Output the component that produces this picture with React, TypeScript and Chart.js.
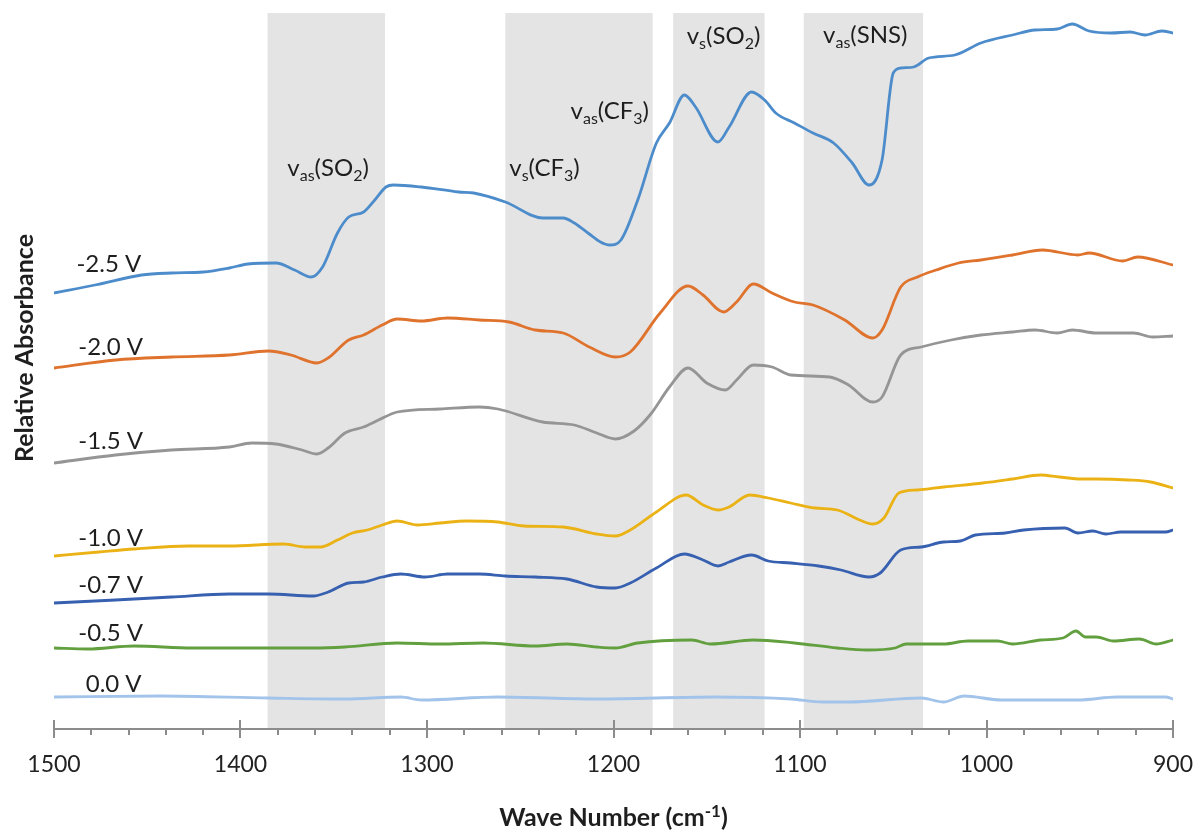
import React, { useEffect, useRef } from 'react';
import { Chart, registerables } from 'chart.js';

Chart.register(...registerables);

type Pt = [number, number];

// Wave number (cm-1), relative absorbance (arbitrary units)
const s25: Pt[] = [
  [1500, 436], [1478, 444], [1453, 454], [1437, 456], [1420, 457], [1406, 461], [1396, 465], [1381, 466],
  [1371, 459], [1362, 452], [1356, 462], [1348, 496], [1342, 512], [1334, 517], [1328, 529], [1322, 542],
  [1318, 544], [1303, 542], [1283, 537], [1275, 536], [1258, 527], [1238, 511], [1227, 511], [1221, 506],
  [1213, 495], [1207, 487], [1202, 484], [1196, 489], [1187, 529], [1177, 586], [1170, 606], [1162, 634],
  [1156, 622], [1144, 587], [1138, 602], [1126, 637], [1119, 629], [1113, 616], [1103, 606], [1093, 596],
  [1082, 586], [1072, 566], [1063, 544], [1056, 569], [1050, 656], [1046, 661], [1039, 662], [1031, 671],
  [1017, 674], [1003, 686], [986, 694], [974, 699], [962, 700], [954, 705], [945, 698], [933, 696],
  [923, 697], [915, 694], [906, 698], [900, 696],
];

const s20: Pt[] = [
  [1500, 361], [1467, 369], [1437, 372], [1406, 374], [1385, 378], [1373, 374], [1359, 366], [1353, 371],
  [1342, 389], [1334, 394], [1324, 404], [1316, 410], [1303, 408], [1289, 411], [1272, 409], [1256, 407],
  [1242, 399], [1227, 396], [1213, 382], [1199, 372], [1191, 377], [1175, 416], [1160, 443], [1152, 434],
  [1141, 417], [1134, 427], [1125, 445], [1115, 436], [1103, 427], [1093, 424], [1076, 409], [1061, 391],
  [1056, 399], [1046, 442], [1037, 452], [1027, 459], [1015, 466], [1003, 469], [986, 474], [970, 479],
  [951, 474], [945, 476], [927, 468], [919, 472], [900, 464],
];

const s15: Pt[] = [
  [1500, 266], [1467, 274], [1437, 279], [1406, 282], [1394, 286], [1381, 285], [1367, 279], [1359, 275],
  [1353, 281], [1344, 296], [1334, 302], [1326, 309], [1316, 317], [1293, 320], [1272, 322], [1262, 320],
  [1238, 307], [1221, 304], [1209, 296], [1199, 290], [1189, 298], [1180, 315], [1170, 342], [1160, 361],
  [1150, 346], [1140, 339], [1134, 349], [1125, 364], [1115, 362], [1105, 354], [1084, 352], [1074, 344],
  [1061, 327], [1056, 332], [1046, 374], [1035, 382], [1019, 389], [1003, 394], [986, 397], [974, 399],
  [962, 396], [954, 399], [941, 396], [921, 396], [911, 392], [900, 393],
];

const s10: Pt[] = [
  [1500, 173], [1476, 177], [1457, 180], [1428, 183], [1406, 183], [1377, 185], [1365, 182], [1357, 182],
  [1348, 189], [1340, 196], [1332, 199], [1324, 204], [1316, 208], [1305, 204], [1293, 206], [1279, 208],
  [1262, 207], [1248, 203], [1227, 202], [1209, 195], [1199, 193], [1191, 199], [1177, 217], [1161, 234],
  [1152, 224], [1144, 219], [1138, 222], [1127, 234], [1117, 231], [1105, 226], [1092, 221], [1080, 219],
  [1068, 209], [1061, 205], [1055, 211], [1047, 236], [1037, 239], [1023, 242], [1002, 246], [986, 250],
  [971, 254], [961, 252], [949, 250], [941, 250], [924, 249], [912, 247], [900, 241],
];

const s07: Pt[] = [
  [1500, 126], [1467, 129], [1437, 132], [1406, 135], [1385, 135], [1361, 133], [1353, 137], [1342, 146],
  [1334, 147], [1324, 152], [1314, 155], [1301, 152], [1289, 155], [1272, 155], [1258, 153], [1242, 152],
  [1225, 150], [1209, 142], [1199, 141], [1191, 146], [1177, 161], [1162, 175], [1152, 169], [1144, 163],
  [1138, 167], [1126, 174], [1117, 168], [1105, 166], [1090, 163], [1078, 159], [1063, 152], [1057, 156],
  [1046, 179], [1035, 182], [1023, 187], [1014, 188], [1006, 194], [990, 196], [980, 199], [958, 201],
  [951, 196], [943, 198], [936, 195], [928, 197], [904, 197], [900, 199],
];

const s05: Pt[] = [
  [1500, 81], [1482, 80], [1457, 83], [1426, 81], [1385, 81], [1361, 81], [1344, 82], [1316, 86],
  [1293, 85], [1270, 86], [1242, 83], [1225, 85], [1209, 82], [1199, 81], [1187, 86], [1158, 89],
  [1148, 85], [1125, 89], [1103, 86], [1080, 81], [1064, 79], [1049, 81], [1043, 85], [1023, 85],
  [1010, 88], [994, 88], [986, 85], [971, 89], [959, 91], [952, 98], [947, 92], [941, 92],
  [932, 88], [918, 90], [909, 85], [900, 89],
];

const s00: Pt[] = [
  [1500, 32], [1443, 33], [1385, 31], [1344, 30], [1314, 32], [1303, 29], [1262, 32], [1209, 30],
  [1146, 32], [1105, 30], [1088, 27], [1074, 27], [1035, 31], [1023, 27], [1012, 33], [992, 29],
  [951, 29], [930, 32], [904, 32], [900, 30],
];

const seriesData: Pt[][] = [s25, s20, s15, s10, s07, s05, s00];
const seriesNames = ['-2.5 V', '-2.0 V', '-1.5 V', '-1.0 V', '-0.7 V', '-0.5 V', '0.0 V'];
const seriesColors = ['#4d8ccb', '#df732d', '#959595', '#ebb216', '#3760b0', '#62a03f', '#a3c4ea'];

// Series label anchor: [wave number at left edge, value at text centre]
const seriesLabelPos: Pt[] = [
  [1488, 465], [1487, 382], [1487, 288], [1487, 191], [1487, 144], [1487, 96], [1483, 45],
];

// Shaded bands [from, to] in cm-1
const bands: Pt[] = [[1385.5, 1322.5], [1258, 1179], [1168, 1119], [1098, 1034]];

// Band labels: main, subscript, inner text, inner subscript
const bandLabelTexts: [string, string, string, string][] = [
  ['v', 'as', '(SO', '2'],
  ['v', 's', '(CF', '3'],
  ['v', 'as', '(CF', '3'],
  ['v', 's', '(SO', '2'],
  ['v', 'as', '(SNS', ''],
];
// [centre wave number, baseline value]
const bandLabelPos: Pt[] = [[1353, 553], [1237, 553], [1202, 610], [1141, 685], [1065, 686]];

const xTicks = [1500, 1400, 1300, 1200, 1100, 1000, 900];

const FONT = 'Lato, "Open Sans", sans-serif';
const TEXT = '#1e1e1e';
const AXIS = '#8c8c8c';

function drawParts(
  ctx: CanvasRenderingContext2D,
  cx: number,
  baseline: number,
  parts: { t: string; mode: 'n' | 'sub' | 'sup' }[],
  size: number,
  weight: string,
) {
  const small = Math.round(size * 0.68);
  const widths = parts.map((p) => {
    ctx.font = `${weight} ${p.mode === 'n' ? size : small}px ${FONT}`;
    return ctx.measureText(p.t).width;
  });
  const total = widths.reduce((a, b) => a + b, 0);
  let x = cx - total / 2;
  ctx.textAlign = 'left';
  ctx.textBaseline = 'alphabetic';
  parts.forEach((p, i) => {
    ctx.font = `${weight} ${p.mode === 'n' ? size : small}px ${FONT}`;
    let y = baseline;
    if (p.mode === 'sub') y = baseline + size * 0.22;
    if (p.mode === 'sup') y = baseline - size * 0.38;
    ctx.fillText(p.t, x, y);
    x += widths[i];
  });
}

const overlayPlugin = {
  id: 'overlay',
  beforeDatasetsDraw(chart: any) {
    const { ctx, chartArea } = chart;
    const xs = chart.scales.x;
    ctx.save();
    ctx.fillStyle = '#e4e4e4';
    for (const [a, b] of bands) {
      const xa = xs.getPixelForValue(a);
      const xb = xs.getPixelForValue(b);
      ctx.fillRect(Math.min(xa, xb), chartArea.top, Math.abs(xb - xa), chartArea.bottom - chartArea.top - 1);
    }
    ctx.restore();
  },
  afterDatasetsDraw(chart: any) {
    const { ctx, chartArea } = chart;
    const xs = chart.scales.x;
    const ys = chart.scales.y;
    const yb = chartArea.bottom;
    ctx.save();
    // tick marks
    ctx.strokeStyle = AXIS;
    ctx.lineWidth = 2;
    for (let w = 1500; w >= 900; w -= 20) {
      const px = Math.round(xs.getPixelForValue(w));
      const major = w % 100 === 0;
      ctx.beginPath();
      ctx.moveTo(px, major ? yb - 9 : yb);
      ctx.lineTo(px, major ? yb + 9 : yb + 6);
      ctx.stroke();
    }
    // series labels
    ctx.fillStyle = TEXT;
    ctx.font = `24px ${FONT}`;
    ctx.textAlign = 'left';
    ctx.textBaseline = 'middle';
    seriesNames.forEach((n, i) => {
      const [w, v] = seriesLabelPos[i];
      ctx.fillText(n, xs.getPixelForValue(w), ys.getPixelForValue(v));
    });
    // band labels
    bandLabelTexts.forEach((t, i) => {
      const [w, v] = bandLabelPos[i];
      const parts: { t: string; mode: 'n' | 'sub' | 'sup' }[] = [
        { t: t[0], mode: 'n' },
        { t: t[1], mode: 'sub' },
        { t: t[2], mode: 'n' },
      ];
      if (t[3]) parts.push({ t: t[3], mode: 'sub' });
      parts.push({ t: ')', mode: 'n' });
      drawParts(ctx, xs.getPixelForValue(w), ys.getPixelForValue(v), parts, 24, 'normal');
    });
    // x title
    drawParts(
      ctx,
      (chartArea.left + chartArea.right) / 2,
      826,
      [
        { t: 'Wave Number (cm', mode: 'n' },
        { t: '-1', mode: 'sup' },
        { t: ')', mode: 'n' },
      ],
      25,
      'bold',
    );
    // y title
    ctx.translate(33, 348);
    ctx.rotate(-Math.PI / 2);
    ctx.font = `bold 25px ${FONT}`;
    ctx.textAlign = 'center';
    ctx.textBaseline = 'alphabetic';
    ctx.fillText('Relative Absorbance', 0, 0);
    ctx.restore();
  },
};

export default function App() {
  const ref = useRef<HTMLCanvasElement | null>(null);
  useEffect(() => {
    if (!ref.current) return;
    const chart = new Chart(ref.current, {
      type: 'line',
      data: {
        datasets: seriesData.map((s, i) => ({
          label: seriesNames[i],
          data: s.map(([x, y]) => ({ x, y })),
          borderColor: seriesColors[i],
          borderWidth: 2.8,
          pointRadius: 0,
          fill: false,
          cubicInterpolationMode: 'monotone' as const,
          borderJoinStyle: 'round' as const,
          borderCapStyle: 'round' as const,
        })),
      },
      options: {
        animation: false,
        responsive: false,
        devicePixelRatio: 1,
        layout: { padding: { left: 54, right: 26, top: 13, bottom: 0 } },
        plugins: { legend: { display: false }, tooltip: { enabled: false } },
        scales: {
          x: {
            type: 'linear',
            reverse: true,
            min: 900,
            max: 1500,
            grid: { display: false, drawTicks: false },
            border: { display: true, color: AXIS, width: 2 },
            afterBuildTicks: (scale: any) => {
              scale.ticks = xTicks.map((value) => ({ value }));
            },
            afterFit: (scale: any) => {
              scale.height = 102;
              scale.paddingLeft = 0;
              scale.paddingRight = 0;
            },
            ticks: {
              autoSkip: false,
              maxRotation: 0,
              padding: 22,
              color: '#222',
              font: { family: FONT, size: 23 },
              callback: (v: any) => String(v),
            },
          },
          y: { display: false, min: 0, max: 716 },
        },
      },
      plugins: [overlayPlugin],
    });
    return () => chart.destroy();
  }, []);
  return (
    <div style={{ position: 'absolute', left: 0, top: 0, width: 1199, height: 831, background: '#fff' }}>
      <canvas ref={ref} width={1199} height={831} />
    </div>
  );
}
